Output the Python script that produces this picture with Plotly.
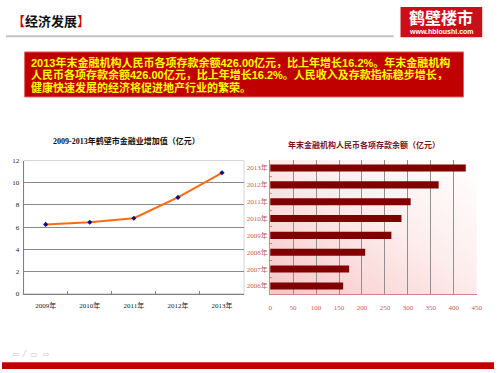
import base64
import plotly.graph_objects as go

# ---------------- data ----------------
line_years = ["2009年", "2010年", "2011年", "2012年", "2013年"]
line_values = [6.24, 6.44, 6.80, 8.68, 10.90]
line_yticks = [0, 2, 4, 6, 8, 10, 12]

bar_years = ["2006年", "2007年", "2008年", "2009年", "2010年", "2011年", "2012年", "2013年"]
bar_values = [159, 172, 207, 264, 286, 306, 367, 426]
bar_xticks = [0, 50, 100, 150, 200, 250, 300, 350, 400, 450]

header_text = "经济发展"
logo_text = "鹤壁楼市"
logo_url = "www.hbloushi.com"
body_lines = [
    "2013年末金融机构人民币各项存款余额426.00亿元，比上年增长16.2%。年末金融机构",
    "人民币各项存款余额426.00亿元，比上年增长16.2%。人民收入及存款指标稳步增长，",
    "健康快速发展的经济将促进地产行业的繁荣。",
]
left_title = "2009-2013年鹤壁市金融业增加值（亿元）"
right_title = "年末金融机构人民币各项存款余额（亿元）"

W, H = 500, 373
def px(x):
    return x / W
def py(y):
    return 1 - y / H

SERIF = "Liberation Serif, Noto Sans CJK SC, serif"
SANS = "Noto Sans CJK SC, sans-serif"
BODY = "Liberation Sans, Noto Sans CJK SC, sans-serif"

fig = go.Figure()

fig.add_trace(go.Scatter(
    x=line_years, y=line_values, mode="lines+markers",
    line=dict(color="#FF6A10", width=2),
    marker=dict(symbol="diamond", size=4, color="#101080"),
    xaxis="x", yaxis="y", showlegend=False,
))

fig.add_trace(go.Bar(
    x=bar_values, y=bar_years, orientation="h",
    marker=dict(color="#800000", line=dict(width=0)),
    width=0.42, xaxis="x2", yaxis="y2", showlegend=False,
))

L_dom_x = [px(22), px(246)]
L_dom_y = [py(296), py(160)]
R_dom_x = [px(272.5), px(482.5)]
R_dom_y = [py(296.7), py(159)]

# gradient background for the bar chart
svg = (
    '<svg xmlns="http://www.w3.org/2000/svg" width="200" height="140" preserveAspectRatio="none">'
    '<defs><linearGradient id="g" x1="0" y1="1" x2="1" y2="0">'
    '<stop offset="0" stop-color="#F7C6C6"/>'
    '<stop offset="0.55" stop-color="#FDEDED"/>'
    '<stop offset="1" stop-color="#FFFFFF"/>'
    '</linearGradient></defs>'
    '<rect width="200" height="140" fill="url(#g)"/></svg>'
)
src = "data:image/svg+xml;base64," + base64.b64encode(svg.encode()).decode()

fig.update_layout(
    width=W, height=H,
    margin=dict(l=0, r=0, t=0, b=0),
    paper_bgcolor="white", plot_bgcolor="rgba(0,0,0,0)",
    xaxis=dict(
        domain=L_dom_x, type="category", range=[-0.5, 4.5],
        showline=True, linecolor="#7f7f7f", linewidth=1,
        ticks="inside", tickson="boundaries", ticklen=3, tickcolor="#7f7f7f",
        showgrid=False, zeroline=False, ticklabelstandoff=5,
        tickfont=dict(family=SERIF, size=7, color="#222222"),
    ),
    yaxis=dict(
        domain=L_dom_y, range=[0, 12], tickvals=line_yticks,
        showline=True, linecolor="#7f7f7f", linewidth=1,
        showgrid=True, gridcolor="#8a8a8a", gridwidth=1,
        zeroline=False, ticks="", ticklabelstandoff=2,
        tickfont=dict(family=SERIF, size=7, color="#222222"),
    ),
    xaxis2=dict(
        domain=R_dom_x, range=[0, 450], tickvals=bar_xticks, anchor="y2",
        showline=True, linecolor="#D98080", linewidth=1,
        showgrid=True, gridcolor="#8f8f8f", gridwidth=1,
        zeroline=False, ticks="", ticklabelstandoff=6,
        tickfont=dict(family=SERIF, size=7, color="#C06060"),
    ),
    yaxis2=dict(
        domain=R_dom_y, type="category", anchor="x2",
        showline=True, linecolor="#D98080", linewidth=1,
        ticks="inside", tickson="boundaries", ticklen=2, tickcolor="#D98080",
        showgrid=False, zeroline=False,
        tickfont=dict(family=SERIF, size=7, color="#C06060"),
    ),
    images=[dict(
        source=src, xref="paper", yref="paper",
        x=R_dom_x[0], y=R_dom_y[1],
        sizex=R_dom_x[1] - R_dom_x[0], sizey=R_dom_y[1] - R_dom_y[0],
        sizing="stretch", layer="below", xanchor="left", yanchor="top",
    )],
)

shapes = []
shapes.append(dict(type="rect", xref="x domain", yref="y domain", x0=0, x1=1, y0=0, y1=1,
                   line=dict(color="#D4D4D4", width=1), layer="below"))
shapes.append(dict(type="line", xref="paper", yref="paper", x0=px(4), x1=px(398), y0=py(33), y1=py(33),
                   line=dict(color="#C4C4C4", width=2)))
shapes.append(dict(type="rect", xref="paper", yref="paper", x0=px(405), x1=px(488), y0=py(34), y1=py(3),
                   fillcolor="#C8101A", line=dict(color="#C8101A", width=0)))
shapes.append(dict(type="rect", xref="paper", yref="paper", x0=px(23), x1=px(469), y0=py(95), y1=py(49),
                   fillcolor="#C00000", line=dict(color="#E06060", width=1)))
shapes.append(dict(type="rect", xref="paper", yref="paper", x0=0, x1=1, y0=0, y1=py(366),
                   fillcolor="#C00000", line=dict(width=0)))
fig.update_layout(shapes=shapes)

ann = []
ann.append(dict(x=px(8), y=py(17), xref="paper", yref="paper", xanchor="left", yanchor="middle",
                showarrow=False,
                text="<span style='color:#D00000'>【</span><b>" + header_text + "</b><span style='color:#D00000'>】</span>",
                font=dict(family=SANS, size=13, color="#111111")))
ann.append(dict(x=px(446.5), y=py(13), xref="paper", yref="paper", xanchor="center", yanchor="middle",
                showarrow=False, text="<b>" + logo_text + "</b>",
                font=dict(family=SANS, size=16, color="white")))
ann.append(dict(x=px(446.5), y=py(28), xref="paper", yref="paper", xanchor="center", yanchor="middle",
                showarrow=False, text="<b>" + logo_url + "</b>",
                font=dict(family="Liberation Sans, Arial", size=7, color="white")))
for t, yy in zip(body_lines, [59, 71.7, 84.4]):
    ann.append(dict(x=px(28), y=py(yy), xref="paper", yref="paper", xanchor="left", yanchor="middle",
                    showarrow=False, text="<b>" + t + "</b>", height=12, borderpad=0,
                    font=dict(family=BODY, size=11, color="#FFFF00")))
ann.append(dict(x=px(127), y=py(140), xref="paper", yref="paper", xanchor="center", yanchor="middle",
                showarrow=False, text="<b>" + left_title + "</b>",
                font=dict(family=SERIF, size=8, color="#111111")))
ann.append(dict(x=px(368), y=py(144), xref="paper", yref="paper", xanchor="center", yanchor="middle",
                showarrow=False, text="<b>" + right_title + "</b>",
                font=dict(family=SERIF, size=8, color="#7A1515")))
ann.append(dict(x=px(8), y=py(358), xref="paper", yref="paper", xanchor="left", yanchor="middle",
                showarrow=False, text="⇦  ⁄  ▭  ⇨",
                font=dict(family="DejaVu Sans", size=8, color="#C8C8C8")))
fig.update_layout(annotations=ann)

fig.write_html(
    "out.html",
    config={"displayModeBar": False},
    post_script="document.body.style.margin='0';document.body.style.overflow='hidden';",
)
